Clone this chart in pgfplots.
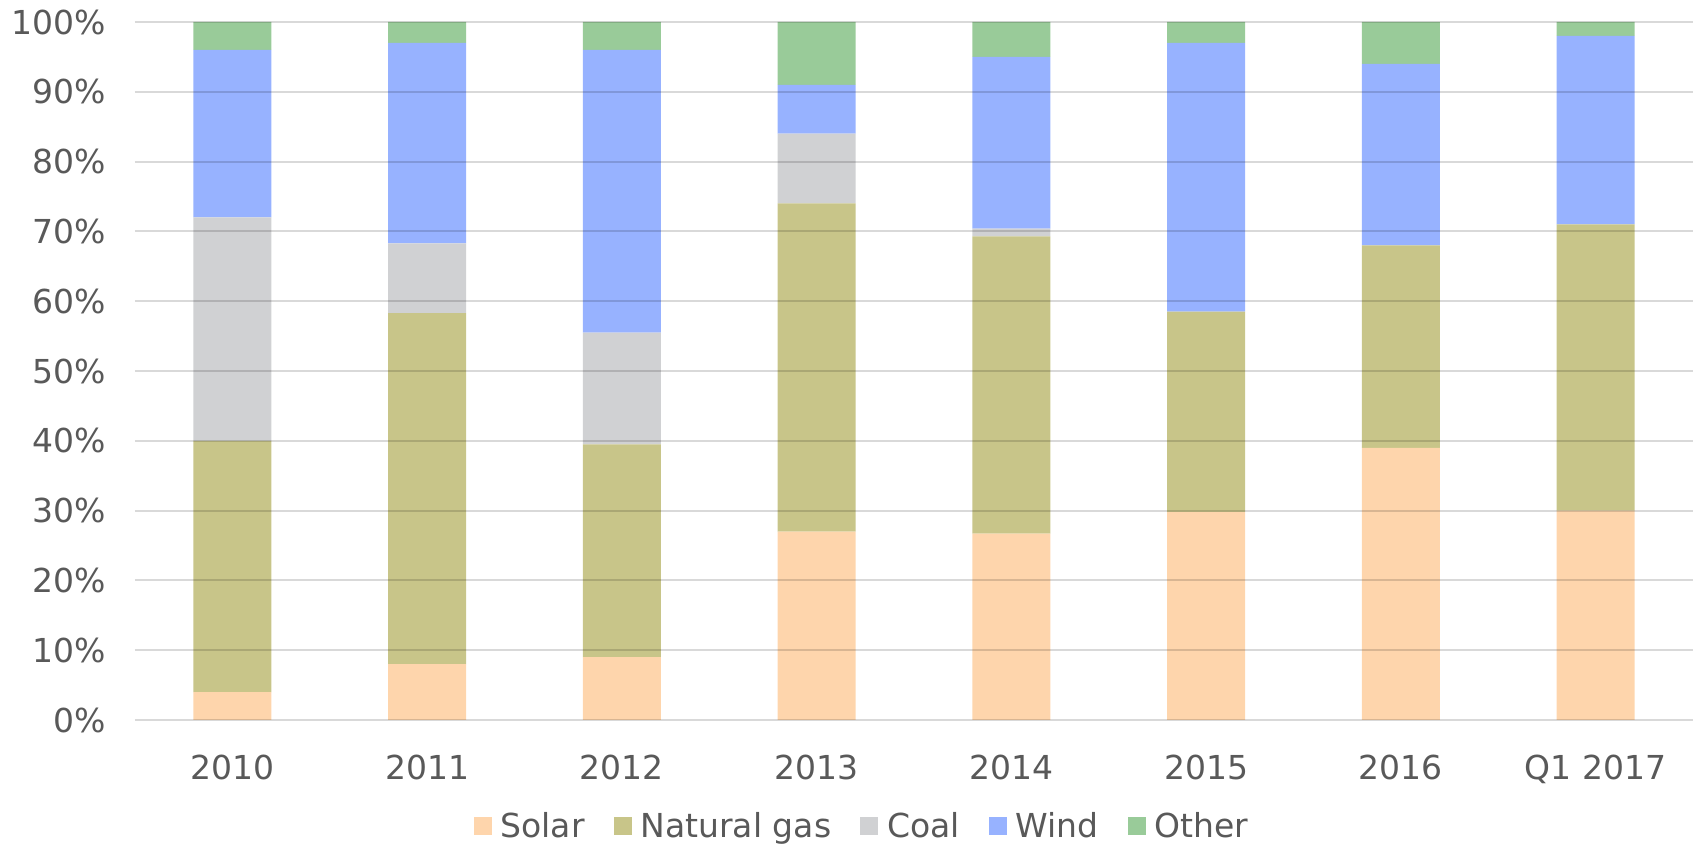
\documentclass[border=0pt]{standalone}
\usepackage{pgfplots}
\pgfplotsset{compat=1.18}
\usepackage{fontspec}
\setmainfont{DejaVu Sans}
\definecolor{solarc}{HTML}{FED5AC}
\definecolor{gasc}{HTML}{C8C589}
\definecolor{coalc}{HTML}{D0D1D3}
\definecolor{windc}{HTML}{97B2FF}
\definecolor{otherc}{HTML}{99CB99}
\definecolor{txtgray}{HTML}{595959}
\begin{document}
\begin{tikzpicture}
\path[use as bounding box] (-67.5pt,-62pt) rectangle (779pt,360pt);
\begin{axis}[
  at={(0,0)}, anchor=south west,
  scale only axis, width=779pt, height=349pt,
  ybar stacked, bar width=0.4,
  xmin=-0.5, xmax=7.5, ymin=0, ymax=100,
  xtick=data,
  xticklabels={2010,2011,2012,2013,2014,2015,2016,Q1 2017},
  ytick={0,10,...,100},
  yticklabel={\pgfmathprintnumber{\tick}\%},
  /pgf/number format/assume math mode=true,
  major tick length=0pt,
  axis line style={draw=none},
  ymajorgrids, axis on top,
  major grid style={black, opacity=0.15, line width=1pt},
  tick label style={font=\fontsize{16.5pt}{19pt}\selectfont, text=txtgray},
  yticklabel style={xshift=-11pt},
  xticklabel style={yshift=-14pt},
  legend columns=5,
  legend style={draw=none, at={(364pt,-53pt)}, anchor=center,
    font=\fontsize{16.5pt}{19pt}\selectfont, text=txtgray,
    /tikz/every even column/.append style={column sep=12.5pt}},
  legend cell align=left,
  legend image code/.code={\fill[#1] (0pt,-4.5pt) rectangle (9pt,4.5pt); \path (11.5pt,0pt);},
  every axis plot/.append style={draw=none},
]
\addplot[fill=solarc] coordinates {(0,4) (1,8) (2,9) (3,27) (4,26.7) (5,29.8) (6,39) (7,30)};
\addplot[fill=gasc] coordinates {(0,36) (1,50.3) (2,30.5) (3,47) (4,42.6) (5,28.7) (6,29) (7,41)};
\addplot[fill=coalc] coordinates {(0,32) (1,10) (2,16) (3,10) (4,1.1) (5,0) (6,0) (7,0)};
\addplot[fill=windc] coordinates {(0,24) (1,28.7) (2,40.5) (3,7) (4,24.6) (5,38.5) (6,26) (7,27)};
\addplot[fill=otherc] coordinates {(0,4) (1,3) (2,4) (3,9) (4,5) (5,3) (6,6) (7,2)};
\legend{Solar,Natural gas,Coal,Wind,Other}
\end{axis}
\end{tikzpicture}
\end{document}
